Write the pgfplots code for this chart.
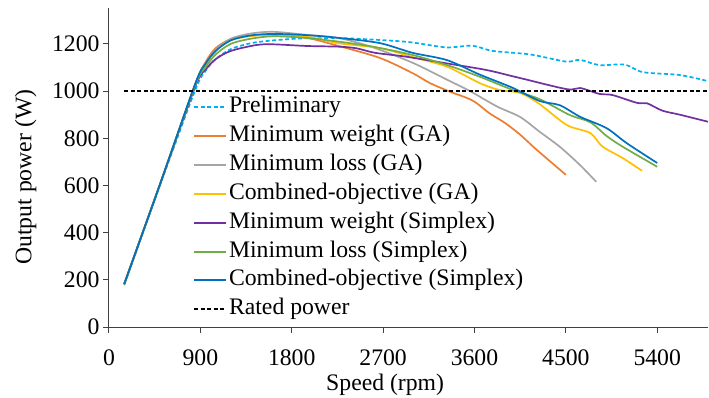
\documentclass[border=0pt]{standalone}
\usepackage{fontspec}
\setmainfont{Liberation Serif}
\usepackage{pgfplots}
\pgfplotsset{compat=1.18}
\definecolor{cPre}{HTML}{00B0F0}
\definecolor{cOr}{HTML}{ED7D31}
\definecolor{cGr}{HTML}{A5A5A5}
\definecolor{cYe}{HTML}{FFC000}
\definecolor{cPu}{HTML}{7030A0}
\definecolor{cGn}{HTML}{70AD47}
\definecolor{cBl}{HTML}{0070C0}
\begin{document}
\begin{tikzpicture}[font=\fontsize{23.7bp}{28bp}\selectfont]
\begin{axis}[
  scale only axis, width=599bp, height=319bp,
  xmin=0, xmax=5900, ymin=0, ymax=1352,
  axis x line*=bottom, axis y line*=left,
  axis line style={black!75, line width=1bp},
  xtick={0,900,...,5400}, ytick={0,200,...,1200},
  tick align=outside, major tick length=6bp,
  tick style={black!75, line width=1bp},
  /pgf/number format/assume math mode=true,
  /pgf/number format/1000 sep={},
  xticklabel style={yshift=-13bp},
  xlabel={Speed (rpm)}, ylabel={Output power (W)},
  xlabel style={at={(axis description cs:0.461,-0.181)},anchor=center},
  ylabel style={at={(axis description cs:-0.139,0.47)},anchor=center},
  every axis plot/.append style={line width=1.7bp, smooth, tension=0.5},
  legend image code/.code={\draw[#1, line width=2bp] (0bp,0bp) -- (32bp,0bp);},
  legend style={draw=none, fill=none, at={(0.140,0.7245)}, anchor=north west,
    inner sep=0pt, row sep=6.9bp,
    nodes={inner xsep=2bp, inner ysep=0pt, text height=16.5bp, text depth=5.5bp},
    font=\fontsize{23.7bp}{28bp}\selectfont},
  legend cell align=left,
]
\addplot[cPre, dash pattern=on 4bp off 2.5bp] coordinates {
(150,178)(500,598)(850,1005)(950,1085)(1050,1135)(1200,1178)(1400,1203)(1600,1214)(1900,1223)(2300,1224)(2600,1218)(2900,1210)(3050,1202)(3330,1185)(3580,1192)(3780,1170)(4150,1155)(4500,1125)(4640,1132)(4830,1110)(5080,1112)(5260,1080)(5620,1068)(5900,1042)};
\addlegendentry{Preliminary}
\addplot[cOr] coordinates {
(150,182)(500,602)(850,1030)(950,1122)(1050,1182)(1200,1220)(1400,1235)(1600,1238)(1950,1225)(2270,1190)(2670,1140)(2990,1076)(3160,1034)(3360,997)(3580,960)(3750,905)(3900,865)(4050,815)(4210,752)(4500,645)};
\addlegendentry{Minimum weight (GA)}
\addplot[cGr] coordinates {
(150,182)(500,602)(850,1028)(950,1115)(1050,1175)(1200,1222)(1400,1244)(1620,1251)(1950,1238)(2270,1224)(2600,1185)(2990,1120)(3330,1048)(3555,1000)(3820,935)(4050,890)(4240,828)(4440,764)(4640,686)(4800,615)};
\addlegendentry{Minimum loss (GA)}
\addplot[cYe] coordinates {
(150,182)(500,602)(850,1028)(950,1110)(1050,1170)(1200,1215)(1400,1233)(1620,1237)(1950,1230)(2270,1202)(2670,1182)(2990,1144)(3330,1103)(3650,1034)(3850,1004)(4050,992)(4240,945)(4510,856)(4740,822)(4860,765)(5060,716)(5250,662)};
\addlegendentry{Combined-objective (GA)}
\addplot[cPu] coordinates {
(150,182)(500,602)(850,1020)(950,1090)(1050,1135)(1200,1170)(1450,1195)(1620,1198)(1950,1191)(2270,1188)(2440,1181)(2620,1162)(2920,1146)(3330,1117)(3720,1089)(4050,1055)(4510,1008)(4640,1013)(4830,988)(4960,983)(5200,950)(5300,948)(5450,917)(5620,900)(5900,870)};
\addlegendentry{Minimum weight (Simplex)}
\addplot[cGn] coordinates {
(150,182)(500,602)(850,1025)(950,1100)(1050,1155)(1200,1200)(1400,1222)(1620,1232)(1950,1225)(2270,1209)(2600,1188)(2990,1153)(3330,1110)(3650,1061)(3980,1004)(4240,966)(4540,898)(4740,868)(4900,810)(5060,764)(5400,679)};
\addlegendentry{Minimum loss (Simplex)}
\addplot[cBl] coordinates {
(150,182)(500,602)(850,1032)(950,1115)(1050,1170)(1200,1215)(1400,1236)(1620,1242)(1950,1237)(2270,1225)(2670,1203)(2990,1162)(3330,1131)(3650,1070)(3980,1013)(4240,958)(4440,940)(4640,891)(4900,843)(5100,779)(5400,695)};
\addlegendentry{Combined-objective (Simplex)}
\addplot[black, line width=1.3bp, dash pattern=on 4bp off 2.5bp, sharp plot] coordinates {(150,1000)(5900,1000)};
\addlegendentry{Rated power}
\end{axis}
\pgfresetboundingbox
\useasboundingbox (-109bp,-71bp) rectangle (600bp,327bp);
\end{tikzpicture}
\end{document}
